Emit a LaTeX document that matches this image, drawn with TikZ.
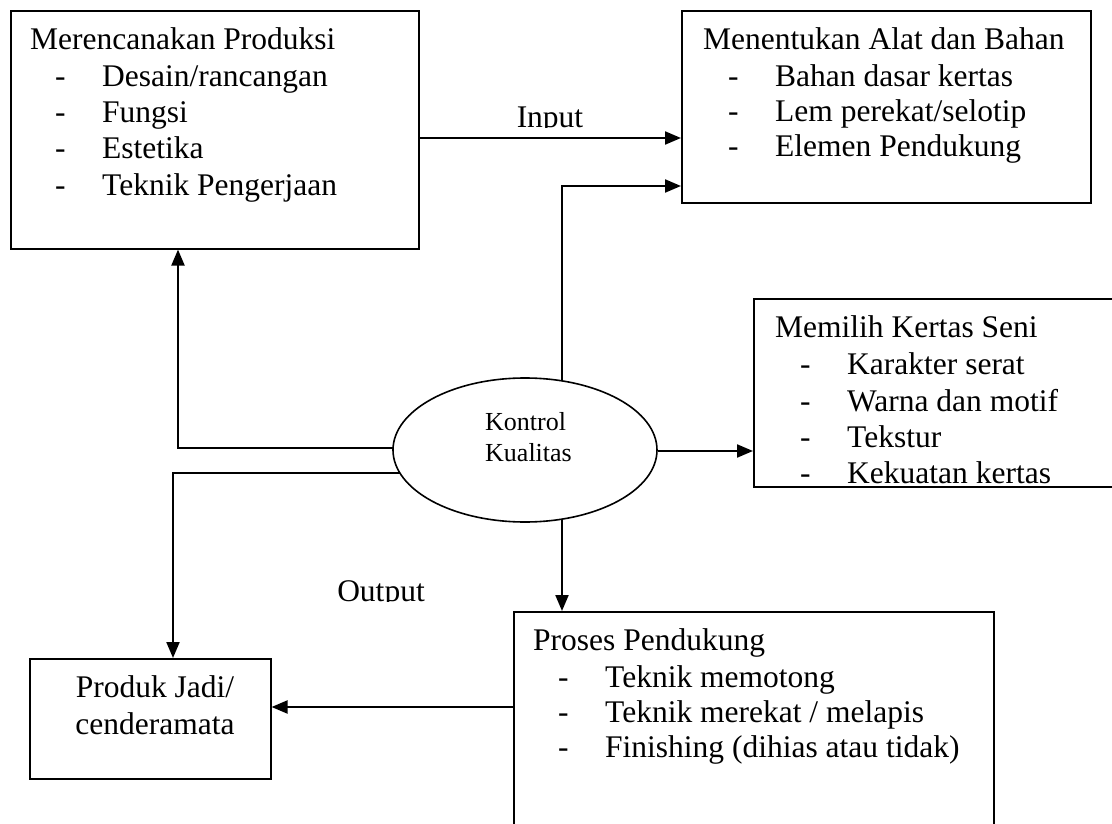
\documentclass[tikz,border=0pt]{standalone}
\usepackage{fontspec}
\setmainfont{Liberation Serif}
\usetikzlibrary{arrows.meta,shapes.geometric,backgrounds}
\begin{document}
\begin{tikzpicture}[x=1pt,y=-1pt,
  box/.style={draw,line width=1.6pt,rectangle,inner sep=0pt,anchor=north west},
  txt/.style={anchor=base west,inner sep=0pt,font=\fontsize{31.5}{36}\selectfont},
  lbl/.style={anchor=base,inner sep=0pt,font=\fontsize{31.5}{36}\selectfont},
  ktxt/.style={anchor=base west,inner sep=0pt,font=\fontsize{26}{30}\selectfont},
  conn/.style={line width=2.2pt},
  arr/.style={conn,-{Triangle[length=16pt,width=13pt]}}]
\useasboundingbox (0,0) rectangle (1112,824);
\clip (0,0) rectangle (1112,824);
% boxes
\node[box,minimum width=408pt,minimum height=238pt] (b1) at (10,10) {};
\node[box,minimum width=409pt,minimum height=192pt] (b2) at (681,10) {};
\node[box,minimum width=370pt,minimum height=188pt] (b3) at (753,298) {};
\node[box,minimum width=480pt,minimum height=240pt] (b4) at (513,611) {};
\node[box,minimum width=241pt,minimum height=120pt] (b5) at (29,658) {};
\node[draw,line width=1.6pt,ellipse,minimum width=264pt,minimum height=144pt,inner sep=0pt,fill=white] (kk) at (525,450) {};
\node[ktxt] (kt1) at (485,430) {Kontrol};
\node[ktxt] (kt2) at (485,461) {Kualitas};
% box 1 text
\node[txt] (t1) at (30,50) {Merencanakan Produksi};
\foreach \y/\s [count=\i] in {87/{Desain\slash rancangan},123/{Fungsi},159/{Estetika},196/{Teknik Pengerjaan}}{
  \node[txt] (d1\i) at (55,\y) {-};
  \node[txt] (s1\i) at (102,\y) {\s};}
% box 2 text
\node[txt] (t2) at (703,50) {Menentukan Alat dan Bahan};
\foreach \y/\s [count=\i] in {87/{Bahan dasar kertas},122/{Lem perekat\slash selotip},157/{Elemen Pendukung}}{
  \node[txt] (d2\i) at (728,\y) {-};
  \node[txt] (s2\i) at (775,\y) {\s};}
% box 3 text
\node[txt] (t3) at (775,337) {Memilih Kertas Seni};
\foreach \y/\s [count=\i] in {374/{Karakter serat},411/{Warna dan motif},447/{Tekstur},483/{Kekuatan kertas}}{
  \node[txt] (d3\i) at (800,\y) {-};
  \node[txt] (s3\i) at (847,\y) {\s};}
% box 4 text
\node[txt] (t4) at (533,650) {Proses Pendukung};
\foreach \y/\s [count=\i] in {687/{Teknik memotong},722/{Teknik merekat \slash\ melapis},757/{Finishing (dihias atau tidak)}}{
  \node[txt] (d4\i) at (558,\y) {-};
  \node[txt] (s4\i) at (605,\y) {\s};}
% box 5 text
\node[lbl] (t5a) at (155,697) {Produk Jadi/};
\node[lbl] (t5b) at (155,734) {cenderamata};
% labels (clipped at bottom like the reference)
\begin{scope}
\clip (400,90) rectangle (700,128);
\node[lbl] (inp) at (550,128) {Input};
\end{scope}
\begin{scope}
\clip (300,560) rectangle (460,601);
\node[lbl] (outp) at (381,601) {Output};
\end{scope}
% connectors
\draw[arr] (b1.east |- 0,138) -- (b2.west |- 0,138);
\draw[arr] (kk.east |- 0,451) -- (b3.west |- 0,451);
\draw[arr] (b4.west |- 0,707) -- (b5.east |- 0,707);
\begin{scope}[on background layer]
\draw[arr] (kk.center -| 562,0) |- (b2.west |- 0,186);
\draw[arr] (kk.center |- 0,448) -| (b1.south -| 178,0);
\draw[arr] (kk.center |- 0,473) -| (b5.north -| 173,0);
\draw[arr] (kk.center -| 562,0) -- (b4.north -| 562,0);
\end{scope}
\end{tikzpicture}
\end{document}
